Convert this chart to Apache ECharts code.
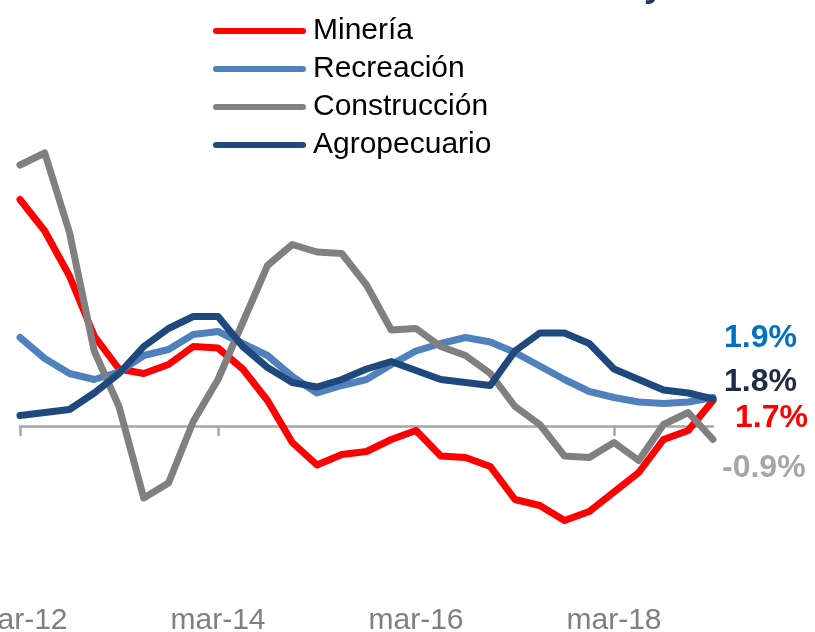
<!DOCTYPE html>
<html lang="es">
<head>
    <meta charset="UTF-8">
    <title>Empleo por sector</title>
    <script src="https://cdn.jsdelivr.net/npm/echarts@6/dist/echarts.min.js"></script>
    <style>
        html, body { margin: 0; padding: 0; background: #fff; }
    </style>
</head>
<body>
    <div id="main" style="width: 815px;height:632px;"></div>
    <script type="text/javascript">
        // trimestres mar-12 .. mar-19
        var meses = ['mar', 'jun', 'sep', 'dic'];
        var trimestres = [];
        for (var a = 12; a <= 19; a++) {
            for (var m = 0; m < 4; m++) {
                if (a === 19 && m > 0) break;
                trimestres.push(meses[m] + '-' + a);
            }
        }

        var mineria = [15.1, 13.0, 10.0, 6.0, 3.8, 3.5, 4.1, 5.3, 5.2, 3.8, 1.7, -1.1, -2.6, -1.9, -1.7,
            -0.9, -0.3, -2.0, -2.1, -2.7, -4.9, -5.3, -6.3, -5.7, -4.4, -3.1, -0.9, -0.3, 1.7];
        var recreacion = [5.9, 4.5, 3.5, 3.1, 3.6, 4.7, 5.1, 6.1, 6.3, 5.5, 4.7, 3.3, 2.2, 2.7, 3.1,
            4.1, 5.0, 5.5, 5.9, 5.6, 4.9, 4.0, 3.1, 2.3, 1.9, 1.6, 1.5, 1.6, 1.9];
        var construccion = [17.4, 18.2, 12.9, 5.0, 1.3, -4.8, -3.8, 0.3, 3.1, 6.9, 10.7, 12.1, 11.6, 11.5, 9.4,
            6.4, 6.5, 5.3, 4.7, 3.5, 1.3, 0.1, -2.0, -2.1, -1.1, -2.3, 0.1, 0.9, -0.9];
        var agropecuario = [0.7, 0.9, 1.1, 2.2, 3.5, 5.3, 6.5, 7.3, 7.3, 5.3, 3.9, 2.9, 2.6, 3.1, 3.8,
            4.3, 3.7, 3.1, 2.9, 2.7, 5.0, 6.2, 6.2, 5.5, 3.8, 3.1, 2.4, 2.2, 1.8];

        var fuente = '"Liberation Sans", Arial, sans-serif';
        var capsula = 'path://M3,0 H90 A3,3 0 0 1 90,6 H3 A3,3 0 0 1 3,0 Z';

        function serie(nombre, datos, color, etiqueta, desplaz) {
            return {
                name: nombre,
                type: 'line',
                data: datos,
                symbol: 'none',
                lineStyle: { color: color, width: 7, join: 'round', cap: 'round' },
                itemStyle: { color: color },
                endLabel: {
                    show: true,
                    formatter: function (p) { return p.value.toFixed(1) + '%'; },
                    offset: desplaz,
                    color: etiqueta,
                    fontSize: 32,
                    fontWeight: 'bold',
                    fontFamily: fuente
                }
            };
        }

        var myChart = echarts.init(document.getElementById('main'));

        var option = {
            animation: false,
            graphic: [{
                type: 'text',
                left: 644,
                top: -32,
                style: { text: 'y', fill: '#1F3864', font: 'bold 36px ' + fuente }
            }],
            legend: {
                left: 213,
                top: 16,
                orient: 'vertical',
                padding: 0,
                itemWidth: 93,
                itemHeight: 7,
                itemGap: 8,
                icon: capsula,
                textStyle: { fontSize: 30, lineHeight: 30, color: '#000', fontFamily: fuente, padding: [0, 0, 0, 2] },
                data: ['Minería', 'Recreación', 'Construcción', 'Agropecuario']
            },
            grid: { left: 20, right: 102, top: 126, bottom: 26, outerBoundsMode: 'none', containLabel: false },
            xAxis: [{
                type: 'category',
                data: trimestres,
                boundaryGap: false,
                axisLine: { show: false, onZero: false },
                axisTick: { show: false },
                axisLabel: { interval: 7, margin: 0, fontSize: 30, color: '#7F7F7F', fontFamily: fuente }
            }, {
                type: 'category',
                data: trimestres,
                position: 'bottom',
                boundaryGap: false,
                axisLine: { show: true, onZero: true, lineStyle: { color: '#A6A6A6', width: 2.5 } },
                axisTick: { show: true, interval: 7, length: 10, lineStyle: { color: '#A6A6A6', width: 2.5 } },
                axisLabel: { show: false }
            }],
            yAxis: {
                type: 'value',
                min: -12,
                max: 20,
                axisLine: { show: false },
                axisTick: { show: false },
                axisLabel: { show: false },
                splitLine: { show: false }
            },
            series: [
                serie('Minería', mineria, '#FF0000', '#FF0000', [14, 18]),
                serie('Recreación', recreacion, '#4F81BD', '#0070C0', [3, -59]),
                serie('Construcción', construccion, '#808080', '#A6A6A6', [1, 29]),
                serie('Agropecuario', agropecuario, '#1F497D', '#1F2A44', [3, -17])
            ]
        };

        myChart.setOption(option);
    </script>
</body>
</html>
